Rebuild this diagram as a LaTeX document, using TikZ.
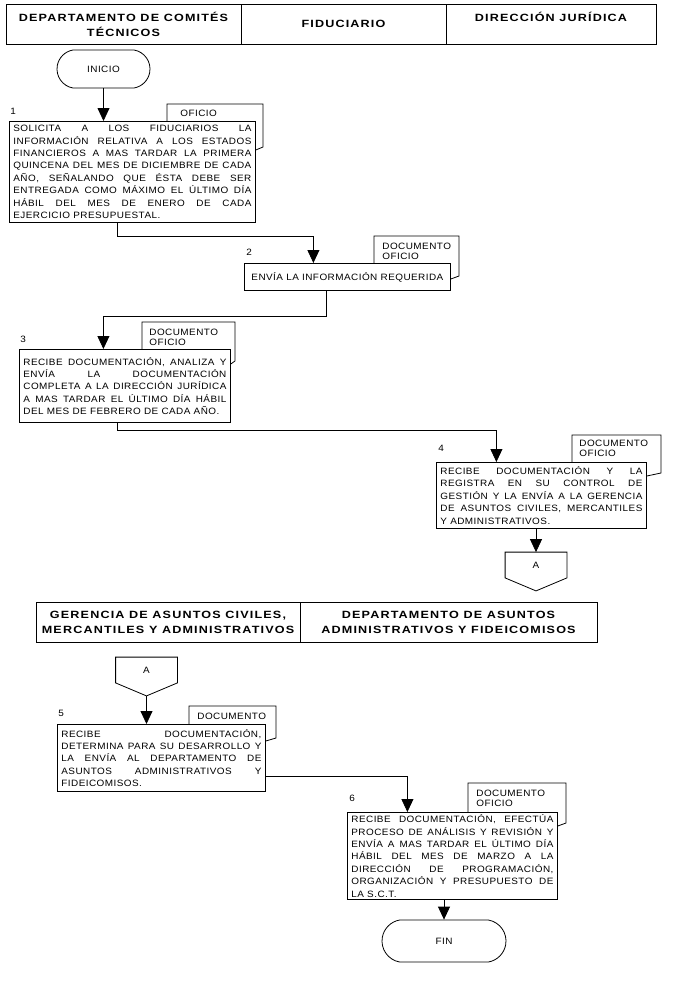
\documentclass[tikz,border=0pt]{standalone}
\usepackage{fontspec}
\setmainfont{Liberation Sans}
\newfontfamily\boxfont[FakeStretch=1.08,LetterSpace=5]{Liberation Sans}
\newfontfamily\hdrfont[FakeStretch=1.2,LetterSpace=11]{Liberation Sans}
\newcommand{\ptext}[2]{\parbox{#1}{\tolerance=10000\hbadness=10000\hyphenpenalty=10000\relax #2}}
\usetikzlibrary{arrows.meta,positioning,calc,shapes.misc}

\begin{document}
\begin{tikzpicture}[
    x=1pt, y=-1pt, line width=0.8pt,
    >={Triangle[width=12pt,length=13pt]},
    hdr/.style={draw, outer sep=0pt, inner sep=0pt, minimum height=40pt, align=center,
        font=\hdrfont\bfseries\fontsize{10.5}{15}\selectfont},
    proc/.style={draw, fill=white, anchor=north west, inner xsep=4pt, inner ysep=2pt,
        font=\boxfont\fontsize{9.2}{12.4}\selectfont},
    tabtxt/.style={anchor=north west, inner sep=0pt, align=left, font=\boxfont\fontsize{9.2}{9.5}\selectfont},
    num/.style={anchor=base west, inner sep=0pt, font=\boxfont\fontsize{9.2}{12}\selectfont},
    term/.style={draw, rounded rectangle, rounded rectangle arc length=160, inner sep=0pt,
        font=\boxfont\fontsize{9.2}{12}\selectfont},
    conn/.style={minimum width=61pt, minimum height=25pt, inner sep=0pt, font=\boxfont\fontsize{9.2}{12}\selectfont},
    arr/.style={->}
]
    \useasboundingbox (0,0) rectangle (685,982);

    \node[hdr, minimum width=235pt, anchor=north west] (h1) at (6,4) {DEPARTAMENTO DE COMITÉS\\TÉCNICOS};
    \node[hdr, minimum width=205pt, right=0pt of h1] (h2) {FIDUCIARIO};
    \node[hdr, minimum width=210pt, right=0pt of h2] (h3) {DIRECCIÓN JURÍDICA\\\mbox{}};
    \node[hdr, minimum width=264pt, anchor=north west] (h4) at (36,602) {GERENCIA DE ASUNTOS CIVILES,\\MERCANTILES Y ADMINISTRATIVOS};
    \node[hdr, minimum width=297pt, right=0pt of h4] (h5) {DEPARTAMENTO DE ASUNTOS\\ADMINISTRATIVOS Y FIDEICOMISOS};

    \node[term, minimum width=93pt, minimum height=38pt] (inicio) at (103.5,69) {INICIO};
    \node[term, minimum width=124pt, minimum height=42pt] (fin) at (444,941) {FIN};

    \node[proc, minimum height=101pt] (p1) at (9,121) {\ptext{238pt}{SOLICITA A LOS FIDUCIARIOS LA\linebreak
        INFORMACIÓN RELATIVA A LOS ESTADOS\linebreak FINANCIEROS A MAS TARDAR LA PRIMERA\linebreak
        QUINCENA DEL MES DE DICIEMBRE DE CADA\linebreak AÑO, SEÑALANDO QUE ÉSTA DEBE SER\linebreak
        ENTREGADA COMO MÁXIMO EL ÚLTIMO DÍA\linebreak HÁBIL DEL MES DE ENERO DE CADA\linebreak
        EJERCICIO PRESUPUESTAL.}};
    \node[proc, minimum height=27pt] (p2) at (244,263) {\ptext{198pt}{\centering ENVÍA LA INFORMACIÓN REQUERIDA}};
    \node[proc, minimum height=73pt] (p3) at (19,349) {\ptext{203pt}{RECIBE DOCUMENTACIÓN, ANALIZA Y\linebreak
        ENVÍA LA DOCUMENTACIÓN\linebreak COMPLETA A LA DIRECCIÓN JURÍDICA\linebreak
        A MAS TARDAR EL ÚLTIMO DÍA HÁBIL\linebreak DEL MES DE FEBRERO DE CADA AÑO.}};
    \node[proc, minimum height=66pt] (p4) at (436,462) {\ptext{202pt}{RECIBE DOCUMENTACIÓN Y LA\linebreak
        REGISTRA EN SU CONTROL DE\linebreak GESTIÓN Y LA ENVÍA A LA GERENCIA\linebreak
        DE ASUNTOS CIVILES, MERCANTILES\linebreak Y ADMINISTRATIVOS.}};
    \node[proc, minimum height=67pt] (p5) at (57,724) {\ptext{200pt}{RECIBE DOCUMENTACIÓN,\linebreak
        DETERMINA PARA SU DESARROLLO Y\linebreak LA ENVÍA AL DEPARTAMENTO DE\linebreak
        ASUNTOS ADMINISTRATIVOS Y\linebreak FIDEICOMISOS.}};
    \node[proc, minimum height=87pt] (p6) at (347,812) {\ptext{202pt}{RECIBE DOCUMENTACIÓN, EFECTÚA\linebreak
        PROCESO DE ANÁLISIS Y REVISIÓN Y\linebreak ENVÍA A MAS TARDAR EL ÚLTIMO DÍA\linebreak
        HÁBIL DEL MES DE MARZO A LA\linebreak DIRECCIÓN DE PROGRAMACIÓN,\linebreak
        ORGANIZACIÓN Y PRESUPUESTO DE\linebreak LA S.C.T.}};

    \node[num] (n1) at (10,114) {1};
    \node[num] (n2) at (246,255) {2};
    \node[num] (n3) at (20,342) {3};
    \node[num] (n4) at (438,451) {4};
    \node[num] (n5) at (58,716) {5};
    \node[num] (n6) at (349,801) {6};

    \node[tabtxt] (d1) at (180,110) {OFICIO};
    \node[tabtxt] (d2) at (382,243) {DOCUMENTO\\OFICIO};
    \node[tabtxt] (d3) at (149,329) {DOCUMENTO\\OFICIO};
    \node[tabtxt] (d4) at (579,440) {DOCUMENTO\\OFICIO};
    \node[tabtxt] (d5) at (197,713) {DOCUMENTO};
    \node[tabtxt] (d6) at (476,790) {DOCUMENTO\\OFICIO};

    \foreach \bx/\lx/\ty/\rx/\by in {p1/167/104/263/147, p2/374/236/459/276, p3/142/322/235/361,
                                     p4/572/435/661/473, p5/189/706/276/738, p6/468/783/566/823} {
        \coordinate (tl) at (\lx,\ty);
        \coordinate (br) at (\rx,\by);
        \draw (tl |- \bx.north) -- (tl) -| (br) -- ($(br -| \bx.east)+(0,3)$);
    }

    \node[conn] (a1) at (536,565) {A};
    \node[conn] (a2) at (146.5,670) {A};
    \foreach \c in {a1,a2} {
        \coordinate (\c-tip) at ($(\c.south)+(0,13)$);
        \draw (\c.north west) -- (\c.north east) -- (\c.south east) -- (\c-tip) -- (\c.south west) -- cycle;
    }

    \draw[arr] (inicio.south) -- (inicio.south |- p1.north);
    \draw[arr] ([xshift=-15pt]p1.south) -- ++(0,14) -| ([xshift=-34pt]p2.north);
    \draw[arr] ([xshift=-21pt]p2.south) -- ++(0,26) -| ([xshift=-21.5pt]p3.north);
    \draw[arr] ([xshift=-7.5pt]p3.south) -- ++(0,8) -| ([xshift=-45pt]p4.north);
    \draw[arr] (a1 |- p4.south) -- (a1.north);
    \draw[arr] (a2-tip) -- (a2-tip |- p5.north);
    \draw[arr] ([yshift=-18.5pt]p5.east) -| ([xshift=-45pt]p6.north);
    \draw[arr] (fin |- p6.south) -- (fin.north);
\end{tikzpicture}
\end{document}
